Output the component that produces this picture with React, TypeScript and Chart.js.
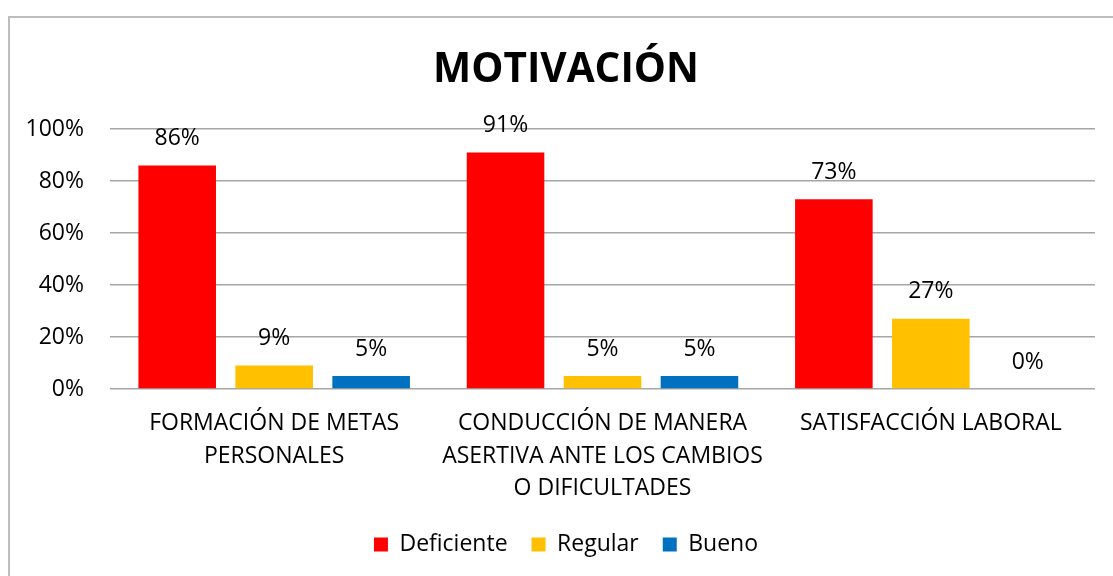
import React, { useEffect, useRef } from "react";
import { Chart, registerables } from "chart.js";

Chart.register(...registerables);

const categories: string[][] = [
  ["FORMACIÓN DE METAS", "PERSONALES"],
  ["CONDUCCIÓN DE MANERA", "ASERTIVA ANTE LOS CAMBIOS", "O DIFICULTADES"],
  ["SATISFACCIÓN LABORAL"],
];
const seriesNames = ["Deficiente", "Regular", "Bueno"];
const deficiente = [86, 91, 73];
const regular = [9, 5, 27];
const bueno = [5, 5, 0];
const seriesColors = ["#FF0000", "#FFC000", "#0070C0"];
const yTicks = [0, 20, 40, 60, 80, 100];
const titleText = "MOTIVACIÓN";

const FONT = '"Open Sans", sans-serif';

const dataLabelPlugin = {
  id: "dataLabels",
  afterDatasetsDraw(chart: any) {
    const ctx = chart.ctx;
    ctx.save();
    ctx.font = `23px ${FONT}`;
    ctx.fillStyle = "#000";
    ctx.textAlign = "center";
    ctx.textBaseline = "middle";
    chart.data.datasets.forEach((ds: any, i: number) => {
      const meta = chart.getDatasetMeta(i);
      meta.data.forEach((bar: any, j: number) => {
        ctx.fillText(ds.data[j] + "%", bar.x, bar.y - 27);
      });
    });
    ctx.restore();
  },
};

// let the y tick labels extend into the left layout padding (avoid label clipping)
const unclipYPlugin = {
  id: "unclipY",
  afterLayout(chart: any) {
    if (chart.scales.y) chart.scales.y.left = 0;
  },
};

export default function App() {
  const ref = useRef<HTMLCanvasElement>(null);
  useEffect(() => {
    if (!ref.current) return;
    const allSeries = [deficiente, regular, bueno];
    const legendPad = 24;
    const chart = new Chart(ref.current, {
      type: "bar",
      data: {
        labels: categories,
        datasets: allSeries.map((d, i) => ({
          label: seriesNames[i],
          data: d,
          backgroundColor: seriesColors[i],
          borderWidth: 0,
          categoryPercentage: 0.886,
          barPercentage: 0.8,
        })),
      },
      options: {
        responsive: false,
        animation: false,
        devicePixelRatio: 1,
        layout: { padding: { left: 37, right: 18, top: 0, bottom: 10 } },
        plugins: {
          title: {
            display: true,
            text: titleText,
            color: "#000",
            font: { family: FONT, size: 40.5, weight: "bold", lineHeight: 1.2 },
            padding: { top: 46, bottom: 34.4 },
          },
          legend: {
            position: "bottom",
            labels: {
              boxWidth: 14,
              boxHeight: 14,
              padding: legendPad,
              color: "#000",
              font: { family: FONT, size: 23 },
            },
          },
          tooltip: { enabled: false },
        },
        scales: {
          x: {
            grid: { display: false, drawTicks: false },
            border: { display: false },
            ticks: {
              color: "#000",
              font: { family: FONT, size: 23, lineHeight: 1.42 },
              padding: 18,
              maxRotation: 0,
              autoSkip: false,
            },
            afterFit(scale: any) {
              scale.height = 144 - legendPad;
            },
          },
          y: {
            min: 0,
            max: 100,
            grid: { color: "#A6A6A6", lineWidth: 1.5, drawTicks: false },
            border: { display: false },
            afterBuildTicks(scale: any) {
              scale.ticks = yTicks.map((v) => ({ value: v }));
            },
            ticks: {
              color: "#000",
              font: { family: FONT, size: 23 },
              padding: 26,
              callback: (v: any) => v + "%",
            },
            afterFit(scale: any) {
              scale.width = 73;
            },
          },
        },
      },
      plugins: [dataLabelPlugin, unclipYPlugin],
    });
    return () => chart.destroy();
  }, []);

  return (
    <div style={{ position: "fixed", left: 0, top: 0, width: 1113, height: 576, overflow: "hidden", background: "#fff" }}>
      <div
        style={{
          position: "absolute",
          left: 8,
          top: 16,
          width: 1200,
          height: 700,
          border: "2px solid #BDBDBD",
          boxSizing: "border-box",
        }}
      />
      <canvas ref={ref} width={1113} height={576} style={{ position: "absolute", left: 0, top: 0 }} />
    </div>
  );
}
